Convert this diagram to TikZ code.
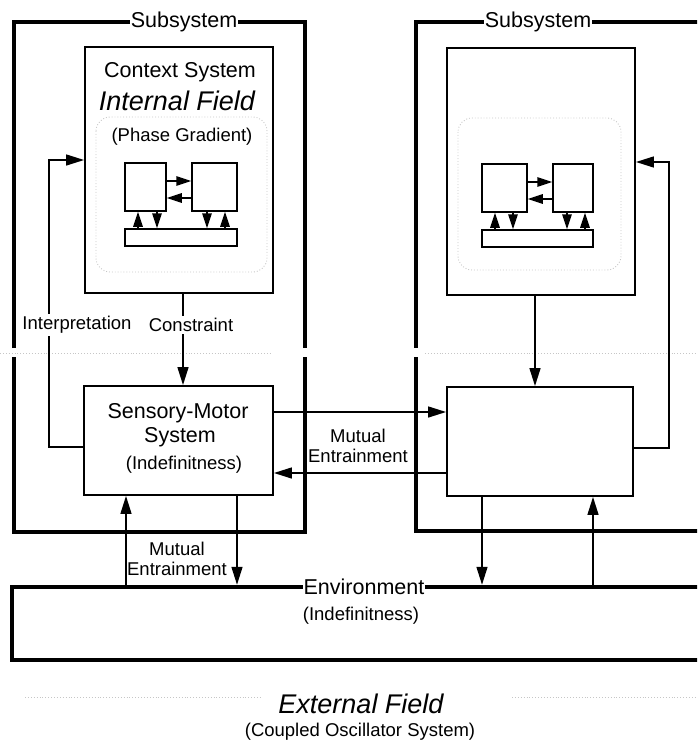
\documentclass[tikz,border=0pt]{standalone}
\usepackage{fontspec}
\setmainfont{Liberation Sans}
\usetikzlibrary{arrows.meta}
\begin{document}
\begin{tikzpicture}[x=1pt,y=-1pt,
  frameline/.style={line width=4.5pt},
  box/.style={draw,line width=1.9pt,rectangle,inner sep=0pt},
  smallbox/.style={draw,line width=1.5pt,rectangle,inner sep=0pt},
  conn/.style={line width=1.5pt,-{Triangle[length=18pt,width=11pt]}},
  iconn/.style={line width=1.6pt,-{Triangle[length=15pt,width=9.5pt]}},
  big/.style={font=\fontsize{21.5}{24}\selectfont},
  lab/.style={font=\fontsize{18.5}{20}\selectfont},
  bigital/.style={font=\fontsize{27}{30}\selectfont\itshape},
  field/.style={gray!45,line width=0.9pt,dotted}
]
\useasboundingbox (0,0) rectangle (697,744);
\clip (0,0) rectangle (697,744);

% faint field traces
\draw[field,rounded corners=14pt] (96,117) rectangle (267,272);
\draw[field,rounded corners=14pt] (458,118) rectangle (621,270);
\draw[field] (0,353) -- (272,353);
\draw[field] (425,353) -- (697,353);
\draw[field] (25,697) -- (262,697);
\draw[field] (512,697) -- (697,697);

% subsystem frames
\draw[frameline] (14,348) -- (14,22) -- (305,22) -- (305,348);
\draw[frameline] (14,357) -- (14,532) -- (305,532) -- (305,357);
\draw[frameline] (710,22) -- (416,22) -- (416,348);
\draw[frameline] (416,357) -- (416,531) -- (710,531);
\node[big,fill=white,inner sep=1pt] (lsub) at (184,22) {Subsystem};
\node[big,fill=white,inner sep=1pt] (rsub) at (538,22) {Subsystem};

% environment
\node[draw,line width=4.5pt,minimum width=710pt,minimum height=73pt,inner sep=0pt] (env) at (367,623.5) {};
\node[big,fill=white,inner sep=1pt] (envlab) at (364,587) {Environment};
\node[lab] (envind) at (361,616) {(Indefinitness)};
\node[bigital] (ext) at (361,704) {External Field};
\node[lab] (cos) at (360,732) {(Coupled Oscillator System)};

% left context system
\node[box,minimum width=188pt,minimum height=246pt] (lctx) at (179,170) {};
\node[big] (lctxt) at (180,72) {Context System};
\node[bigital] (lif) at (177,101) {Internal Field};
\node[lab] (lpg) at (182,137) {(Phase Gradient)};
\node[smallbox,minimum width=41pt,minimum height=48pt] (la) at (145.5,187) {};
\node[smallbox,minimum width=45pt,minimum height=48pt] (lb) at (214.5,187) {};
\node[smallbox,minimum width=112pt,minimum height=17pt] (lbar) at (181,237.5) {};
\draw[iconn] ([yshift=6pt]la.east) -- ([yshift=6pt]lb.west);
\draw[iconn] ([yshift=-11pt]lb.west) -- ([yshift=-11pt]la.east);
\draw[iconn] ([xshift=-43pt]lbar.north) -- ([xshift=-7.5pt]la.south);
\draw[iconn] ([xshift=11.5pt]la.south) -- ([xshift=-24pt]lbar.north);
\draw[iconn] ([xshift=-7.5pt]lb.south) -- ([xshift=26pt]lbar.north);
\draw[iconn] ([xshift=44pt]lbar.north) -- ([xshift=10.5pt]lb.south);

% right context system
\node[box,minimum width=188pt,minimum height=247pt] (rctx) at (541,171.5) {};
\node[smallbox,minimum width=45pt,minimum height=48pt] (ra) at (504.5,188) {};
\node[smallbox,minimum width=40pt,minimum height=48pt] (rb) at (573,188) {};
\node[smallbox,minimum width=111pt,minimum height=17pt] (rbar) at (537.5,238.5) {};
\draw[iconn] ([yshift=6pt]ra.east) -- ([yshift=6pt]rb.west);
\draw[iconn] ([yshift=-11pt]rb.west) -- ([yshift=-11pt]ra.east);
\draw[iconn] ([xshift=-42.5pt]rbar.north) -- ([xshift=-9.5pt]ra.south);
\draw[iconn] ([xshift=8.5pt]ra.south) -- ([xshift=-24.5pt]rbar.north);
\draw[iconn] ([xshift=-6pt]rb.south) -- ([xshift=29.5pt]rbar.north);
\draw[iconn] ([xshift=47.5pt]rbar.north) -- ([xshift=12pt]rb.south);

% sensory-motor systems
\node[box,minimum width=189pt,minimum height=109pt] (lsm) at (178.5,440.5) {};
\node[big] (lsm1) at (178,413) {Sensory-Motor};
\node[big] (lsm2) at (180,437) {System};
\node[lab] (lsm3) at (184,465) {(Indefinitness)};
\node[box,minimum width=186pt,minimum height=109pt] (rsm) at (540,441.5) {};

% interpretation / constraint (left)
\coordinate (lintc) at (49,160);
\draw[conn] ([yshift=-6.5pt]lsm.west) -| (lintc) -- ([yshift=10pt]lctx.west);
\draw[conn] ([xshift=4pt]lctx.south) -- ([xshift=4.5pt]lsm.north);
\node[lab,fill=white,inner sep=2pt] (interp) at (77,325) {Interpretation};
\node[lab,fill=white,inner sep=2pt] (constr) at (191,325) {Constraint};

% right feedback / constraint
\coordinate (rintc) at (669,162);
\draw[conn] ([yshift=-6.5pt]rsm.east) -| (rintc) -- ([yshift=9.5pt]rctx.east);
\draw[conn] ([xshift=-6pt]rctx.south) -- ([xshift=-5pt]rsm.north);

% mutual entrainment between subsystems
\draw[conn] ([yshift=28.5pt]lsm.east) -- ([yshift=29.5pt]rsm.west);
\draw[conn] ([yshift=-31.5pt]rsm.west) -- ([yshift=-32.5pt]lsm.east);
\node[lab,align=center] (me1) at (358,446) {Mutual\\Entrainment};

% mutual entrainment with environment
\draw[conn] ([xshift=-241pt]env.north) -- ([xshift=-52.5pt]lsm.south);
\draw[conn] ([xshift=58.5pt]lsm.south) -- ([xshift=-130pt]env.north);
\draw[conn] ([xshift=-58pt]rsm.south) -- ([xshift=115pt]env.north);
\draw[conn] ([xshift=226pt]env.north) -- ([xshift=53pt]rsm.south);
\node[lab,align=center] (me2) at (177,559) {Mutual\\Entrainment};
\end{tikzpicture}
\end{document}
